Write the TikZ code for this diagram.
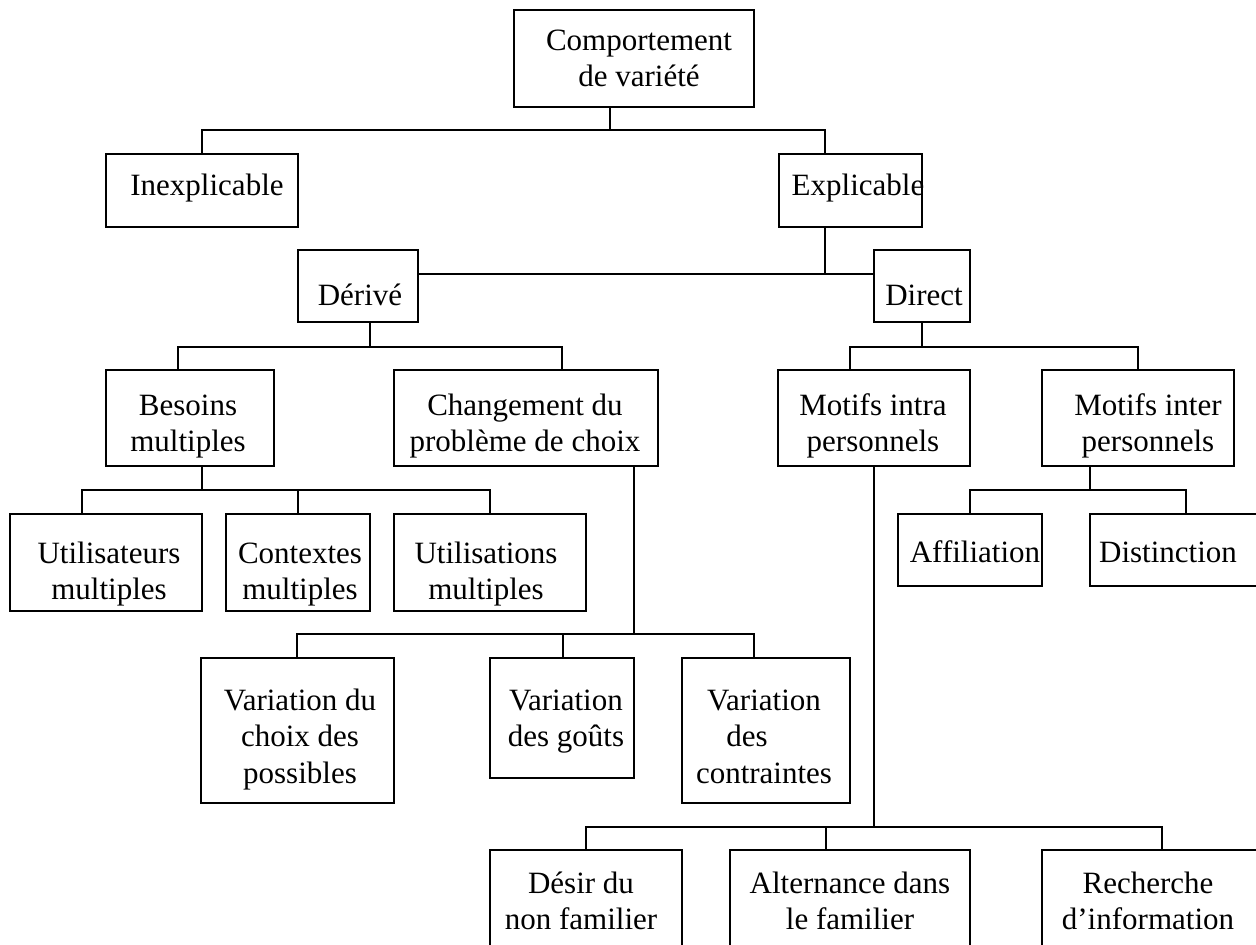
\documentclass[tikz,border=0pt]{standalone}
\usepackage{fontspec}
\setmainfont{Liberation Serif}
\newcommand\ml[1]{\begin{tabular}[t]{@{}c@{}}#1\end{tabular}}
\newcommand\mkbox[5]{\node[box, minimum width={(#4-#2)*1pt}, minimum height={(#5-#3)*1pt}] (#1) at ({(#2+#4)/2},{(#3+#5)/2}) {};}
\begin{document}
\begin{tikzpicture}[x=1pt,y=-1pt,
  box/.style={draw, line width=1.6pt, inner sep=0pt, outer sep=0pt},
  txt/.style={inner sep=0pt, anchor=base, font=\fontsize{31}{36.5}\selectfont},
  conn/.style={line width=1.3pt}]
\useasboundingbox (0,0) rectangle (1256,945);
\clip (0,0) rectangle (1256,945);

% boxes
\mkbox{comp}{514}{10}{754}{107}
\mkbox{inexp}{106}{154}{298}{227}
\mkbox{expl}{779}{154}{922}{227}
\mkbox{derive}{298}{250}{418}{322}
\mkbox{direct}{874}{250}{970}{322}
\mkbox{besoins}{106}{370}{274}{466}
\mkbox{chang}{394}{370}{658}{466}
\mkbox{intra}{778}{370}{970}{466}
\mkbox{inter}{1042}{370}{1234}{466}
\mkbox{util}{10}{514}{202}{611}
\mkbox{ctx}{226}{514}{370}{611}
\mkbox{utilis}{394}{514}{586}{611}
\mkbox{affil}{898}{514}{1042}{586}
\mkbox{dist}{1090}{514}{1290}{586}
\mkbox{var1}{201}{658}{394}{803}
\mkbox{var2}{490}{658}{634}{778}
\mkbox{var3}{682}{658}{850}{803}
\mkbox{desir}{490}{850}{682}{980}
\mkbox{altern}{730}{850}{970}{980}
\mkbox{rech}{1042}{850}{1290}{980}

% texts
\node[txt] (comp-t) at (639,50) {\ml{Comportement\\de variété}};
\node[txt] (inexp-t) at (207,195) {Inexplicable};
\node[txt] (expl-t) at (858,195) {Explicable};
\node[txt] (derive-t) at (360,305) {Dérivé};
\node[txt] (direct-t) at (924,305) {Direct};
\node[txt] (besoins-t) at (188,415) {\ml{Besoins\\multiples}};
\node[txt] (chang-t) at (525,415) {\ml{Changement du\\problème de choix}};
\node[txt] (intra-t) at (873,415) {\ml{Motifs intra\\personnels}};
\node[txt] (inter-t) at (1148,415) {\ml{Motifs inter\\personnels}};
\node[txt] (util-t) at (109,563) {\ml{Utilisateurs\\multiples}};
\node[txt] (ctx-t) at (300,563) {\ml{Contextes\\multiples}};
\node[txt] (utilis-t) at (486,563) {\ml{Utilisations\\multiples}};
\node[txt] (affil-t) at (975,562) {Affiliation};
\node[txt] (dist-t) at (1168,562) {Distinction};
\node[txt] (var1-t) at (300,710) {\ml{Variation du\\choix des\\possibles}};
\node[txt] (var2-t) at (566,710) {\ml{Variation\\des goûts}};
\node[txt] (var3-t) at (764,710) {\ml{Variation\\des\hspace*{34pt}\\contraintes}};
\node[txt] (desir-t) at (581,893) {\ml{Désir du\\non familier}};
\node[txt] (altern-t) at (850,893) {\ml{Alternance dans\\le familier}};
\node[txt] (rech-t) at (1148,893) {\ml{Recherche\\d’information}};

% connectors
\coordinate (j1) at (610,130); \coordinate (j1l) at (202,130); \coordinate (j1r) at (825,130);
\draw[conn] (j1 |- comp.south) -- (j1);
\draw[conn] (j1l |- inexp.north) -- (j1l) -- (j1r) -- (j1r |- expl.north);

\coordinate (j2) at (825,274);
\draw[conn] (j2 |- expl.south) -- (j2);
\draw[conn] (derive.east |- j2) -- (direct.west |- j2);

\coordinate (j3) at (370,347); \coordinate (j3l) at (178,347); \coordinate (j3r) at (562,347);
\draw[conn] (j3 |- derive.south) -- (j3);
\draw[conn] (j3l |- besoins.north) -- (j3l) -- (j3r) -- (j3r |- chang.north);

\coordinate (j4) at (922,347); \coordinate (j4l) at (850,347); \coordinate (j4r) at (1138,347);
\draw[conn] (j4 |- direct.south) -- (j4);
\draw[conn] (j4l |- intra.north) -- (j4l) -- (j4r) -- (j4r |- inter.north);

\coordinate (j5) at (202,490); \coordinate (j5l) at (82,490); \coordinate (j5m) at (298,490); \coordinate (j5r) at (490,490);
\draw[conn] (j5 |- besoins.south) -- (j5);
\draw[conn] (j5l |- util.north) -- (j5l) -- (j5r) -- (j5r |- utilis.north);
\draw[conn] (j5m) -- (j5m |- ctx.north);

\coordinate (j6) at (634,634); \coordinate (j6l) at (297,634); \coordinate (j6m) at (563,634); \coordinate (j6r) at (754,634);
\draw[conn] (j6 |- chang.south) -- (j6);
\draw[conn] (j6l |- var1.north) -- (j6l) -- (j6r) -- (j6r |- var3.north);
\draw[conn] (j6m) -- (j6m |- var2.north);

\coordinate (j7) at (1090,490); \coordinate (j7l) at (970,490); \coordinate (j7r) at (1186,490);
\draw[conn] (j7 |- inter.south) -- (j7);
\draw[conn] (j7l |- affil.north) -- (j7l) -- (j7r) -- (j7r |- dist.north);

\coordinate (j8) at (874,827); \coordinate (j8l) at (586,827); \coordinate (j8m) at (826,827); \coordinate (j8r) at (1162,827);
\draw[conn] (j8 |- intra.south) -- (j8);
\draw[conn] (j8l |- desir.north) -- (j8l) -- (j8r) -- (j8r |- rech.north);
\draw[conn] (j8m) -- (j8m |- altern.north);
\end{tikzpicture}
\end{document}
